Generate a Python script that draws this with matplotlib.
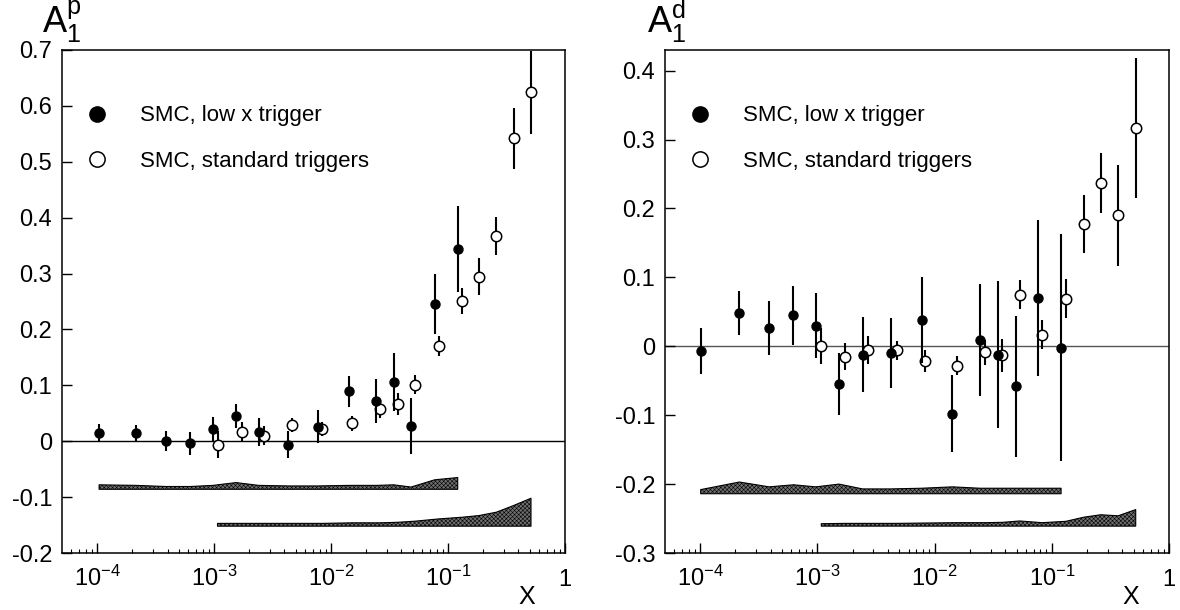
import matplotlib
matplotlib.use("Agg")
import matplotlib.pyplot as plt
from matplotlib.lines import Line2D
from matplotlib.ticker import FixedLocator, LogLocator, NullFormatter

plt.rcParams['font.family'] = ['Liberation Sans', 'DejaVu Sans']
plt.rcParams['mathtext.fontset'] = 'custom'
plt.rcParams['mathtext.rm'] = 'Liberation Sans'
plt.rcParams['mathtext.it'] = 'Liberation Sans:italic'
plt.rcParams['axes.unicode_minus'] = False
plt.rcParams['hatch.linewidth'] = 0.4

# ---- proton, A1^p ----
xp_low = [1.04e-4, 2.17e-4, 3.86e-4, 6.28e-4, 9.8e-4, 1.54e-3, 2.41e-3, 4.32e-3,
          7.69e-3, 1.43e-2, 2.44e-2, 3.43e-2, 4.83e-2, 7.7e-2, 0.121]
ap_low = [0.015, 0.014, 0.000, -0.004, 0.021, 0.045, 0.017, -0.006,
          0.026, 0.089, 0.072, 0.106, 0.028, 0.246, 0.344]
ap_low_err = [0.015, 0.015, 0.018, 0.020, 0.022, 0.022, 0.025, 0.024,
              0.030, 0.027, 0.039, 0.052, 0.050, 0.054, 0.077]

xp_std = [1.07e-3, 1.72e-3, 2.69e-3, 4.67e-3, 8.44e-3, 1.52e-2, 2.64e-2, 3.74e-2,
          5.26e-2, 8.32e-2, 0.132, 0.184, 0.259, 0.364, 0.512]
ap_std = [-0.006, 0.017, 0.010, 0.029, 0.022, 0.032, 0.058, 0.067,
          0.101, 0.170, 0.251, 0.294, 0.367, 0.542, 0.624]
ap_std_err = [0.024, 0.017, 0.017, 0.012, 0.013, 0.013, 0.016, 0.020,
              0.017, 0.018, 0.023, 0.033, 0.034, 0.055, 0.074]

# systematic error bands (top edge, flat bottom)
sysp_low_top = [-0.078, -0.079, -0.081, -0.081, -0.079, -0.074, -0.079, -0.080,
                -0.080, -0.079, -0.079, -0.078, -0.082, -0.069, -0.065]
sysp_low_bot = -0.086
sysp_std_top = [-0.147, -0.147, -0.147, -0.147, -0.147, -0.146, -0.146, -0.145,
                -0.143, -0.139, -0.136, -0.133, -0.127, -0.115, -0.102]
sysp_std_bot = -0.152

# ---- deuteron, A1^d ----
xd_low = [1.01e-4, 2.16e-4, 3.88e-4, 6.25e-4, 9.7e-4, 1.53e-3, 2.43e-3, 4.23e-3,
          7.75e-3, 1.42e-2, 2.44e-2, 3.45e-2, 4.91e-2, 7.62e-2, 0.120]
ad_low = [-0.007, 0.048, 0.027, 0.045, 0.030, -0.055, -0.012, -0.010,
          0.038, -0.098, 0.009, -0.012, -0.058, 0.070, -0.002]
ad_low_err = [0.033, 0.032, 0.039, 0.043, 0.047, 0.045, 0.054, 0.051,
              0.062, 0.056, 0.081, 0.107, 0.102, 0.113, 0.165]

xd_std = [1.08e-3, 1.71e-3, 2.69e-3, 4.75e-3, 8.35e-3, 1.54e-2, 2.67e-2, 3.79e-2,
          5.32e-2, 8.28e-2, 0.132, 0.188, 0.261, 0.368, 0.520]
ad_std = [0.000, -0.015, -0.005, -0.006, -0.021, -0.028, -0.009, -0.013,
          0.075, 0.017, 0.069, 0.177, 0.237, 0.190, 0.317]
ad_std_err = [0.026, 0.020, 0.020, 0.014, 0.016, 0.014, 0.018, 0.024,
              0.021, 0.021, 0.028, 0.042, 0.044, 0.073, 0.102]

sysd_low_top = [-0.208, -0.197, -0.204, -0.201, -0.204, -0.200, -0.207, -0.207,
                -0.206, -0.204, -0.206, -0.206, -0.206, -0.206, -0.206]
sysd_low_bot = -0.214
sysd_std_top = [-0.2575, -0.257, -0.257, -0.257, -0.2565, -0.256, -0.256, -0.2555,
                -0.2535, -0.256, -0.254, -0.248, -0.2445, -0.246, -0.237]
sysd_std_bot = -0.261

xticks = [1e-4, 1e-3, 1e-2, 1e-1, 1]
xtick_labels = [r'$\mathregular{10^{-4}}$', r'$\mathregular{10^{-3}}$',
                r'$\mathregular{10^{-2}}$', r'$\mathregular{10^{-1}}$',
                r'$\mathregular{1}$']
yticks_p = [-0.2, -0.1, 0, 0.1, 0.2, 0.3, 0.4, 0.5, 0.6, 0.7]
yticks_d = [-0.3, -0.2, -0.1, 0, 0.1, 0.2, 0.3, 0.4]
labels = ["SMC, low x trigger", "SMC, standard triggers"]


def draw_panel(ax, x_low, a_low, e_low, x_std, a_std, e_std,
               low_top, low_bot, std_top, std_bot, ylim, yticks, zero_color):
    ax.set_xscale('log')
    ax.set_xlim(10 ** -4.3, 1.0)
    ax.set_ylim(*ylim)

    ax.axhline(0, color=zero_color, lw=1.0, zorder=1)

    ax.fill_between(x_low, low_bot, low_top, facecolor='#707070',
                    edgecolor='black', hatch='xxxxxxxx', lw=0.8, zorder=2)
    ax.fill_between(x_std, std_bot, std_top, facecolor='#707070',
                    edgecolor='black', hatch='xxxxxxxx', lw=0.8, zorder=2)

    ax.errorbar(x_low, a_low, yerr=e_low, fmt='o', color='black', ms=6.5,
                elinewidth=1.5, capsize=0, zorder=4)
    ax.errorbar(x_std, a_std, yerr=e_std, fmt='o', color='black', mfc='white',
                mec='black', mew=1.1, ms=7.5, elinewidth=1.5, capsize=0, zorder=3)

    handles = [Line2D([], [], ls='none', marker='o', color='black', ms=11),
               Line2D([], [], ls='none', marker='o', mfc='white', mec='black',
                      mew=1.1, ms=11)]
    ax.legend(handles, labels, loc='upper left', bbox_to_anchor=(0.047, 0.89),
              frameon=False, fontsize=16, handlelength=1.0, handletextpad=1.45,
              labelspacing=1.1, borderpad=0, borderaxespad=0)

    ax.xaxis.set_major_locator(FixedLocator(xticks))
    ax.set_xticklabels(xtick_labels)
    ax.xaxis.set_minor_locator(LogLocator(base=10, subs=range(2, 10), numticks=20))
    ax.xaxis.set_minor_formatter(NullFormatter())
    ax.set_yticks(yticks)
    ax.set_yticklabels(['%g' % v for v in yticks])

    ax.tick_params(axis='x', which='major', direction='in', length=7, width=1,
                   labelsize=17, pad=24, top=False)
    ax.tick_params(axis='x', which='minor', direction='in', length=3, width=0.8,
                   top=False)
    ax.tick_params(axis='y', direction='in', length=7.5, width=1,
                   labelsize=17, pad=7, right=False)
    for lab in ax.get_xticklabels():
        lab.set_verticalalignment('baseline')
    for s in ax.spines.values():
        s.set_linewidth(1.1)


fig = plt.figure(figsize=(11.8, 6.1), dpi=100)
ax1 = fig.add_axes([62 / 1180, 57 / 610, 503 / 1180, 503 / 610])
ax2 = fig.add_axes([665 / 1180, 57 / 610, 504 / 1180, 503 / 610])

draw_panel(ax1, xp_low, ap_low, ap_low_err, xp_std, ap_std, ap_std_err,
           sysp_low_top, sysp_low_bot, sysp_std_top, sysp_std_bot,
           (-0.2, 0.7), yticks_p, 'black')
draw_panel(ax2, xd_low, ad_low, ad_low_err, xd_std, ad_std, ad_std_err,
           sysd_low_top, sysd_low_bot, sysd_std_top, sysd_std_bot,
           (-0.3, 0.43), yticks_d, '#555555')

fig.text(42 / 1180, 1 - 33 / 610, r'$\mathregular{A_1^p}$', fontsize=26,
         va='baseline', ha='left')
fig.text(647 / 1180, 1 - 33 / 610, r'$\mathregular{A_1^d}$', fontsize=26,
         va='baseline', ha='left')
fig.text(527 / 1180, 1 / 610, 'X', fontsize=18, ha='center', va='bottom')
fig.text(1131 / 1180, 1 / 610, 'X', fontsize=18, ha='center', va='bottom')

fig.savefig('out.png', dpi=100)
